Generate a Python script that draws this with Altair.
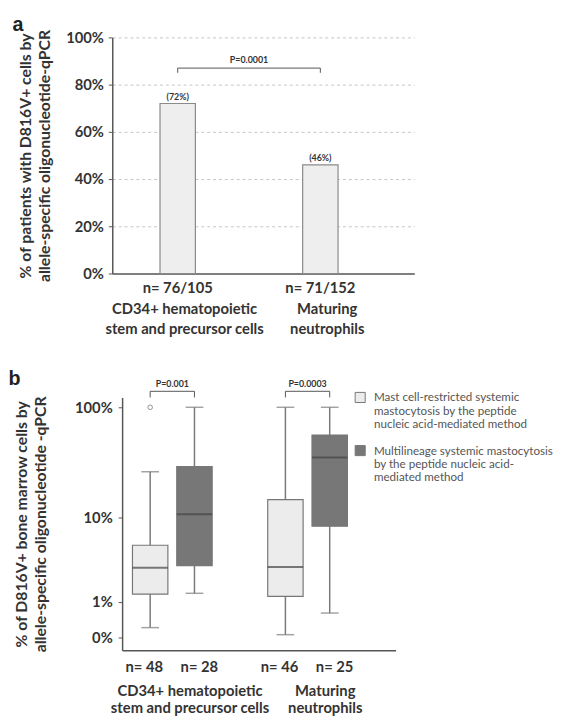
import altair as alt
import pandas as pd

# ---------------- data: panel a ----------------
a_groups = ["CD34+ hematopoietic|stem and precursor cells", "Maturing|neutrophils"]
a_n = ["n= 76/105", "n= 71/152"]
a_percent = [72, 46]
a_pct_labels = ["(72%)", "(46%)"]
a_pvalue = ["P=0.0001"]
a_bracket_y = [85, 87, 87, 85]
a_bracket_grp = [0, 0, 1, 1]

# ---------------- data: panel b ----------------
b_groups = ["CD34+ hematopoietic|stem and precursor cells", "Maturing|neutrophils"]
b_types = [
    "Mast cell-restricted systemic|mastocytosis by the peptide|nucleic acid-mediated method",
    "Multilineage systemic mastocytosis|by the peptide nucleic acid-|mediated method",
]
b_box_group = [0, 0, 1, 1]
b_box_type = [0, 1, 0, 1]
b_n = ["n= 48", "n= 28", "n= 46", "n= 25"]
b_whisker_low = [0.19, 1.27, 0.12, 0.49]
b_q1 = [1.24, 2.7, 1.17, 7.9]
b_median = [2.55, 10.7, 2.6, 35]
b_q3 = [4.7, 29, 14.5, 56]
b_whisker_high = [26, 100, 100, 100]
b_outlier_box = [0]
b_outlier_value = [100]
b_pvalues = ["P=0.001", "P=0.0003"]
b_pvalue_y = [140, 140]
b_bracket_y = [123, 140, 140, 123]
b_bracket_type = [0, 0, 1, 1]
b_axis_values = [0.1, 1, 10, 100]

# ---------------- style ----------------
FONT = "Lato"
AX = "#555555"
TXT = "#333333"
LIGHT = "#ececec"
DARK = "#777777"
A_W, A_H = 307, 240
B_W, B_H = 288, 257

# ================= panel a =================
df_a = pd.DataFrame({"grp": a_groups, "pct": a_percent, "lab": a_pct_labels, "n": a_n})
df_a_br = pd.DataFrame({"grp": [a_groups[i] for i in a_bracket_grp],
                        "y": a_bracket_y, "o": list(range(len(a_bracket_y)))})
df_a_p = pd.DataFrame({"grp": [a_groups[0]], "y": [a_bracket_y[1]], "t": a_pvalue})

x_a = alt.X("grp:N", sort=a_groups, title=None,
            scale=alt.Scale(paddingInner=0.752, paddingOuter=0.4345, align=0.385),
            axis=alt.Axis(labelExpr="split(datum.label, '|')", labelAngle=0, ticks=False,
                          domainColor=AX, domainWidth=1.5, labelFont=FONT, labelFontSize=15,
                          labelFontWeight="bold", labelColor=TXT, labelPadding=29,
                          labelLineHeight=20, labelLimit=0, labelOffset=7, labelBaseline="top"))
y_a = alt.Y("pct:Q", scale=alt.Scale(domain=[0, 100], nice=False),
            title=["% of patients with D816V+ cells by", "allele-specific oligonucleotide-qPCR"],
            axis=alt.Axis(values=list(range(0, 101, 10)),
                          labelExpr="datum.value % 20 == 0 ? datum.value + '%' : ''",
                          grid=True, gridColor="#c4c4c4", gridDash=[3, 3], gridWidth=1,
                          gridOpacity={"condition": {"test": "datum.value % 20 != 0 || datum.value == 0", "value": 0}, "value": 1},
                          tickSize=4, tickColor=AX, tickWidth=1, domainColor=AX, domainWidth=1.5,
                          labelFont=FONT, labelFontSize=15, labelFontWeight="bold", labelColor=TXT,
                          labelPadding=5, titleFont=FONT, titleFontSize=16, titleFontWeight="bold",
                          titleColor=TXT, titlePadding=13, titleLineHeight=20))

bars_a = alt.Chart(df_a).mark_bar(fill="#eeeeee", stroke="#8a8a8a", strokeWidth=1.2).encode(x=x_a, y=y_a)
pct_a = alt.Chart(df_a).mark_text(font=FONT, fontSize=9, fontWeight="bold", color=TXT, dy=-7).encode(
    x="grp:N", y="pct:Q", text="lab:N")
n_a_txt = alt.Chart(df_a).mark_text(font=FONT, fontSize=15, fontWeight="bold", color=TXT,
                                    baseline="middle", dy=15).encode(
    x="grp:N", y=alt.value(A_H), text="n:N")
br_a = alt.Chart(df_a_br).mark_line(color=AX, strokeWidth=1).encode(x="grp:N", y="y:Q", order="o:Q")
p_a = alt.Chart(df_a_p).mark_text(font=FONT, fontSize=9, fontWeight="bold", color=TXT,
                                  baseline="bottom", dy=-3, dx=72.5).encode(
    x="grp:N", y="y:Q", text="t:N")

panel_a = alt.layer(bars_a, pct_a, n_a_txt, br_a, p_a).properties(
    width=A_W, height=A_H,
    title=alt.TitleParams("a", anchor="start", font="Liberation Sans", fontSize=20,
                          fontWeight="bold", color="#222222", dx=-5, offset=-6))

# ================= panel b =================
df_b = pd.DataFrame({
    "grp": [b_groups[g] for g in b_box_group],
    "typ": [b_types[t] for t in b_box_type],
    "ti": b_box_type,
    "n": b_n, "low": b_whisker_low, "q1": b_q1, "med": b_median,
    "q3": b_q3, "high": b_whisker_high,
})
df_b_out = pd.DataFrame({"grp": [b_groups[b_box_group[i]] for i in b_outlier_box],
                         "typ": [b_types[b_box_type[i]] for i in b_outlier_box],
                         "v": b_outlier_value})
br_rows = []
for gi, g in enumerate(b_groups):
    for k, (t, yv) in enumerate(zip(b_bracket_type, b_bracket_y)):
        br_rows.append({"grp": g, "typ": b_types[t], "y": yv, "o": k, "g": gi})
df_b_br = pd.DataFrame(br_rows)
df_b_p = pd.DataFrame({"grp": b_groups, "y": b_pvalue_y, "t": b_pvalues})

x_b = alt.X("grp:N", sort=b_groups, title=None,
            scale=alt.Scale(range=[10, B_W], paddingInner=0.345, paddingOuter=0.1836, align=0.119),
            axis=alt.Axis(labelExpr="split(datum.label, '|')", labelAngle=0, ticks=False,
                          domainColor=AX, domainWidth=1.5, labelFont=FONT, labelFontSize=15,
                          labelFontWeight="bold", labelColor=TXT, labelPadding=34,
                          labelLineHeight=17, labelLimit=0, labelOffset=18, labelBaseline="top"))
xo_b = alt.XOffset("typ:N", sort=b_types, scale=alt.Scale(domain=b_types, paddingInner=0, paddingOuter=0))
y_scale_b = alt.Scale(type="log", domain=[0.0436, 0.1, 1, 10, 100, 123],
                      range=[257, 244, 208, 122, 10, 0], nice=False, zero=False)
y_b = alt.Y("low:Q", scale=y_scale_b,
            title=["% of D816V+ bone marrow cells by", "allele-specific oligonucleotide -qPCR"],
            axis=alt.Axis(values=b_axis_values, offset=-10,
                          labelExpr="datum.value < 0.5 ? '0%' : datum.value + '%'",
                          grid=False, tickSize=4, tickColor=AX, tickWidth=1,
                          domainColor=AX, domainWidth=1.5,
                          labelFont=FONT, labelFontSize=15, labelFontWeight="bold", labelColor=TXT,
                          labelPadding=6, titleFont=FONT, titleFontSize=16, titleFontWeight="bold",
                          titleColor=TXT, titlePadding=26, titleLineHeight=20))

fill_b = alt.Fill("typ:N", sort=b_types, scale=alt.Scale(domain=b_types, range=[LIGHT, DARK]),
                  legend=alt.Legend(title=None, orient="none", legendX=246, legendY=-6,
                                    symbolType="square", symbolSize=105, symbolStrokeColor="#777777",
                                    symbolStrokeWidth=1, labelExpr="split(datum.label, '|')",
                                    labelFont=FONT, labelFontSize=11.8, labelColor="#555555",
                                    labelBaseline="middle", labelLimit=0,
                                    labelOffset=8, rowPadding=12))

whisk = alt.Chart(df_b).mark_rule(color="#7a7a7a", strokeWidth=1.5).encode(
    x=x_b, xOffset=xo_b, y=y_b, y2="high:Q")
box = alt.Chart(df_b).mark_bar(size=36, stroke="#777777", strokeWidth=1.2).encode(
    x="grp:N", xOffset="typ:N", y="q1:Q", y2="q3:Q", fill=fill_b)
med = alt.Chart(df_b).mark_tick(size=36, thickness=2, color="#444444").encode(
    x="grp:N", xOffset="typ:N", y="med:Q")
cap_lo = alt.Chart(df_b).mark_tick(size=18, thickness=1.5, color="#7a7a7a").encode(
    x="grp:N", xOffset="typ:N", y="low:Q")
cap_hi = alt.Chart(df_b).mark_tick(size=18, thickness=1.5, color="#7a7a7a").encode(
    x="grp:N", xOffset="typ:N", y="high:Q")
outl = alt.Chart(df_b_out).mark_point(shape="circle", filled=False, size=22, color="#666666",
                                      strokeWidth=1).encode(x="grp:N", xOffset="typ:N", y="v:Q")
n_b_enc = dict(x="grp:N", xOffset="typ:N", y=alt.value(B_H), text="n:N")
n_b_lo = alt.Chart(df_b).transform_filter("datum.ti == 0").mark_text(
    font=FONT, fontSize=15, fontWeight="bold", color=TXT, baseline="middle", dy=17, dx=-6).encode(**n_b_enc)
n_b_hi = alt.Chart(df_b).transform_filter("datum.ti == 1").mark_text(
    font=FONT, fontSize=15, fontWeight="bold", color=TXT, baseline="middle", dy=17, dx=5).encode(**n_b_enc)
br_b = alt.Chart(df_b_br).mark_line(color=AX, strokeWidth=1).encode(
    x="grp:N", xOffset="typ:N", y="y:Q", order="o:Q", detail="g:N")
p_b = alt.Chart(df_b_p).mark_text(font=FONT, fontSize=9, fontWeight="bold", color=TXT,
                                  baseline="bottom", dy=-2).encode(x="grp:N", y="y:Q", text="t:N")

panel_b = alt.layer(whisk, box, med, cap_lo, cap_hi, outl, n_b_lo, n_b_hi, br_b, p_b).properties(
    width=B_W, height=B_H,
    title=alt.TitleParams("b", anchor="start", font="Liberation Sans", fontSize=20,
                          fontWeight="bold", color="#222222", dx=-5, offset=-9))

chart = alt.ConcatChart(concat=[panel_a, panel_b], columns=1, spacing=33).resolve_legend(
    fill="independent").configure(style={"guide-label": {"lineHeight": 13.5}}).configure_view(
    stroke=None).properties(
    padding={"left": 0, "top": 1, "right": 0, "bottom": 0}, background="white")

chart.save("out.html", embed_options={"renderer": "svg", "actions": False})
